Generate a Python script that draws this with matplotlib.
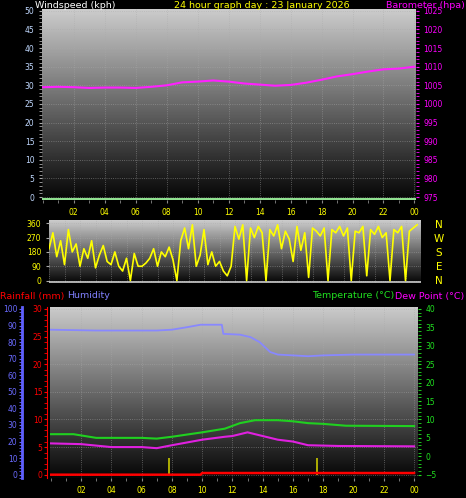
import numpy as np
import matplotlib.pyplot as plt
from matplotlib.ticker import MultipleLocator, FixedLocator

# barometer, hourly (hpa)
baro_hours = list(range(25))
baro = [1004.5, 1004.6, 1004.5, 1004.3, 1004.4, 1004.4, 1004.3, 1004.6, 1005.0, 1005.8,
        1006.0, 1006.3, 1006.0, 1005.5, 1005.2, 1004.9, 1005.1, 1005.7, 1006.5, 1007.4,
        1008.0, 1008.7, 1009.3, 1009.5, 1010.0]

# wind direction every 15 minutes (degrees)
wind_dir = [200, 300, 150, 250, 100, 320, 180, 230,
            90, 200, 140, 250, 80, 160, 220, 120,
            100, 180, 90, 60, 140, 0, 170, 90,
            90, 110, 140, 200, 90, 180, 150, 210,
            130, 0, 250, 330, 200, 350, 90, 160,
            320, 100, 180, 90, 120, 60, 30, 90,
            340, 260, 350, 0, 330, 270, 340, 300,
            0, 320, 280, 350, 200, 310, 260, 120,
            340, 190, 300, 20, 330, 310, 280, 330,
            0, 320, 300, 340, 280, 330, 0, 310,
            300, 340, 30, 320, 290, 340, 270, 300,
            0, 320, 300, 340, 0, 310, 330, 350]
wind_hours = [i * 0.25 for i in range(len(wind_dir))]

hum_hours = [0, 3, 7, 8, 9, 9.9, 11.3, 11.4, 12.5, 13.2, 13.8, 14.5, 15, 17, 18, 20, 24]
humidity = [87.5, 87, 87, 87.5, 89, 90.5, 90.5, 85, 84.5, 83, 80, 74, 72.5, 71.5, 72, 72.5, 72.5]

temp_hours = [0, 1.5, 3, 6, 7, 8, 10, 11.5, 12.5, 13.5, 15, 16, 17, 18, 19.5, 24]
temp = [6, 6, 5, 5, 4.8, 5.3, 6.5, 7.5, 9, 9.8, 9.8, 9.5, 9, 8.8, 8.3, 8.2]

dew_hours = [0, 2, 4, 6, 7, 8, 10, 11.5, 12, 13, 14, 15, 16, 17, 19, 24]
dew = [3.5, 3.3, 2.5, 2.5, 2.2, 3, 4.5, 5.3, 5.5, 6.5, 5.5, 4.5, 4, 3, 2.8, 2.7]

rain_hours = [0, 9.9, 10.0, 24]
rain = [0, 0, 0.3, 0.3]

sun_marks = [7.8, 17.6]
hour_ticks = list(range(2, 25, 2))
hour_labels = ['%02d' % (h % 24) for h in hour_ticks]

W, H = 466, 498
fig = plt.figure(figsize=(W / 100, H / 100), dpi=100, facecolor='black')
fs = 5.5
hfs = 6.8


def box(x0, y0, x1, y1):
    return [x0 / W, 1 - y1 / H, (x1 - x0) / W, (y1 - y0) / H]


def gradient(ax):
    grad = np.linspace(0.8, 0.02, 256).reshape(-1, 1)
    ax.imshow(grad, cmap='gray', vmin=0, vmax=1, aspect='auto',
              extent=(0, 1, 0, 1), transform=ax.transAxes, zorder=0)


def style(ax):
    ax.set_facecolor('black')
    for s in ax.spines.values():
        s.set_visible(False)
    ax.grid(True, color='#aaaaaa', linestyle=':', linewidth=0.6, alpha=0.6)


# top panel
ax1 = fig.add_axes(box(42, 9, 416, 200))
style(ax1)
gradient(ax1)
ax1.set_xlim(-0.05, 24.1)
ax1.set_ylim(-0.8, 50.5)
ax1.set_yticks(range(0, 51, 5))
ax1.yaxis.set_minor_locator(MultipleLocator(1))
ax1.tick_params(axis='y', which='both', colors='#aaaaaa', labelcolor='#c0d8ff', labelsize=fs, length=2)
ax1.xaxis.set_major_locator(FixedLocator(hour_ticks))
ax1.xaxis.set_minor_locator(MultipleLocator(1))
ax1.set_xticklabels(hour_labels)
ax1.tick_params(axis='x', which='both', colors='#888888', labelcolor='yellow', labelsize=fs, length=2)
ax1.axhline(-0.5, color='#90e090', linewidth=1.5, zorder=3)
ax1b = ax1.twinx()
for s in ax1b.spines.values():
    s.set_visible(False)
ax1b.set_ylim(975 - 0.8, 1025.5)
ax1b.set_yticks(range(975, 1026, 5))
ax1b.yaxis.set_minor_locator(MultipleLocator(1))
ax1b.tick_params(axis='y', which='both', colors='magenta', labelcolor='magenta', labelsize=fs, length=2)
ax1b.plot(baro_hours, baro, color='#ff20ff', linewidth=1.5)

fig.text(35 / W, 1 - 5 / H, 'Windspeed (kph)', color='white', fontsize=hfs, va='center')
fig.text(262 / W, 1 - 5 / H, '24 hour graph day : 23 January 2026', color='yellow', fontsize=hfs,
         va='center', ha='center')
fig.text(465 / W, 1 - 5 / H, 'Barometer (hpa)', color='magenta', fontsize=hfs, va='center', ha='right')

# wind direction panel
ax2 = fig.add_axes(box(49, 220, 421, 283))
style(ax2)
gradient(ax2)
ax2.set_xlim(0, 24)
ax2.set_ylim(-15, 380)
ax2.set_yticks([0, 90, 180, 270, 360])
ax2.tick_params(axis='y', colors='#aaaaaa', labelcolor='yellow', labelsize=fs, length=2)
ax2.xaxis.set_major_locator(MultipleLocator(1))
ax2.tick_params(axis='x', length=0, labelbottom=False)
ax2.axhline(-8, color='#cccccc', linewidth=1.2)
ax2.plot(wind_hours, wind_dir, color='yellow', linewidth=1.2)
for i, c in enumerate('NWSEN'):
    fig.text(439 / W, 1 - (225 + i * 14) / H, c, color='yellow', fontsize=7.5, ha='center', va='center')

# bottom panel
ax3 = fig.add_axes(box(50, 307, 418, 478))
style(ax3)
gradient(ax3)
ax3.set_xlim(-0.05, 24.26)
hlo, hhi = -2, 101.2
ax3.set_ylim(hlo * 0.3, hhi * 0.3)
ax3.set_yticks(range(0, 31, 5))
ax3.yaxis.set_minor_locator(MultipleLocator(1))
ax3.tick_params(axis='y', which='both', colors='red', labelcolor='red', labelsize=fs, length=2, pad=1.5)
ax3.xaxis.set_major_locator(FixedLocator(hour_ticks))
ax3.xaxis.set_minor_locator(MultipleLocator(1))
ax3.set_xticklabels(hour_labels)
ax3.tick_params(axis='x', which='both', colors='#888888', labelcolor='yellow', labelsize=fs, length=2)
ax3.spines['left'].set_visible(True)
ax3.spines['left'].set_color('red')
ax3.spines['left'].set_position(('outward', 2))

axh = ax3.twinx()
for s in axh.spines.values():
    s.set_visible(False)
axh.yaxis.tick_left()
axh.spines['left'].set_visible(True)
axh.spines['left'].set_position(('outward', 20))
axh.spines['left'].set_color('#6060ff')
axh.spines['left'].set_linewidth(2)
axh.set_ylim(hlo, hhi)
axh.set_yticks(range(0, 101, 10))
axh.yaxis.set_minor_locator(MultipleLocator(2))
axh.tick_params(axis='y', which='both', colors='#6060ff', labelcolor='#6a6aff', labelsize=fs, length=2, pad=1.5)
axh.plot(hum_hours, humidity, color='#8888ff', linewidth=1.3)

axt = ax3.twinx()
for s in axt.spines.values():
    s.set_visible(False)
axt.set_ylim(-5 + hlo * 0.45, -5 + hhi * 0.45)
axt.set_yticks(range(-5, 41, 5))
axt.yaxis.set_minor_locator(MultipleLocator(1))
axt.tick_params(axis='y', which='both', colors='#20e020', labelcolor='#20e020', labelsize=fs, length=2)
axt.plot(temp_hours, temp, color='#20d020', linewidth=1.5)
axt.plot(dew_hours, dew, color='#e020e0', linewidth=1.5)

ax3.vlines(sun_marks, 0, 3.0, color='#c8c800', linewidth=1.2, zorder=4)
ax3.plot(rain_hours, rain, color='red', linewidth=1.8, zorder=5)

fig.text(0, 1 - 296 / H, 'Rainfall (mm)', color='red', fontsize=hfs, va='center')
fig.text(67 / W, 1 - 296 / H, 'Humidity', color='#8080ff', fontsize=hfs, va='center')
fig.text(312 / W, 1 - 296 / H, 'Temperature (°C)', color='#20e020', fontsize=hfs, va='center')
fig.text(395 / W, 1 - 296 / H, 'Dew Point (°C)', color='magenta', fontsize=hfs, va='center')

fig.savefig('out.png', dpi=100, facecolor='black')
